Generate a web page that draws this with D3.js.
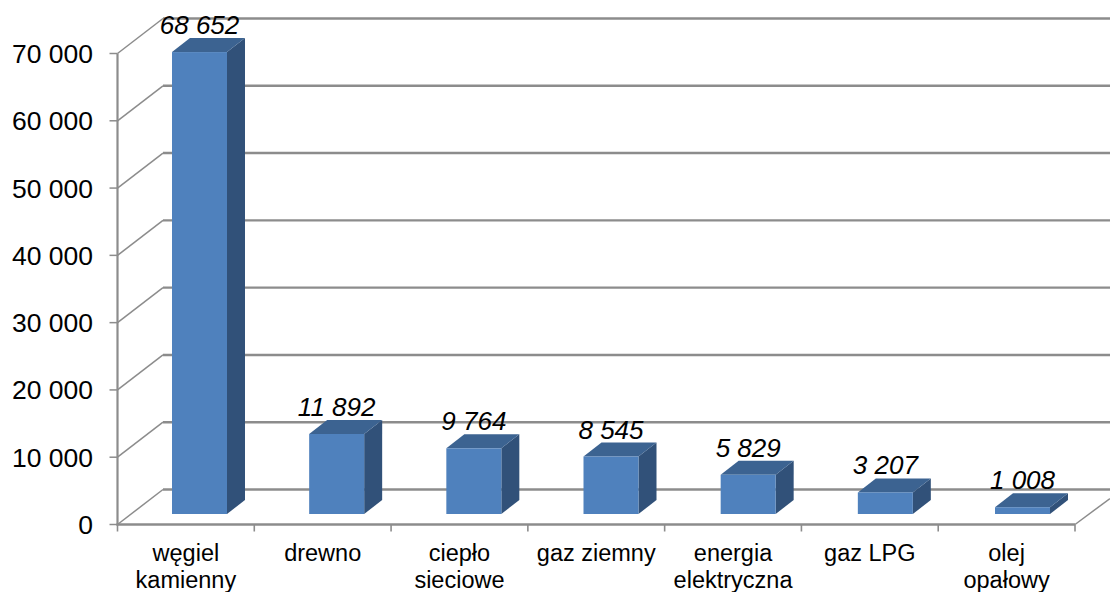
<!DOCTYPE html>
<html><head><meta charset="utf-8">
<script src="https://cdn.jsdelivr.net/npm/d3@7/dist/d3.min.js"></script>
<style>html,body{margin:0;padding:0;background:#fff}svg{display:block}text{font-family:"Liberation Sans",Arial,sans-serif;fill:#000}</style>
</head><body><svg id="c" width="1110" height="592"></svg>
<script>
const categories=[["węgiel","kamienny"],["drewno"],["ciepło","sieciowe"],["gaz ziemny"],["energia","elektryczna"],["gaz LPG"],["olej","opałowy"]];
const values=[68652,11892,9764,8545,5829,3207,1008];
const valueLabels=["68 652","11 892","9 764","8 545","5 829","3 207","1 008"];
const tickValues=[0,10000,20000,30000,40000,50000,60000,70000];
const tickLabels=["0","10 000","20 000","30 000","40 000","50 000","60 000","70 000"];

const svg=d3.select("#c");
const x0=117.5,x1=1075,wallDx=45.5,wallDy=-35;
const y=d3.scaleLinear().domain([0,70000]).range([524.5,53.5]);
const x=d3.scaleBand().domain(d3.range(values.length)).range([x0,x1]);
const grid="#8c8c8c";
const line=(a,b,c,d,w)=>svg.append("line").attr("x1",a).attr("y1",b).attr("x2",c).attr("y2",d).attr("stroke",grid).attr("stroke-width",w);

// walls and gridlines
tickValues.forEach((v,i)=>{
  const yy=y(v);
  line(x0,yy,x0+wallDx,yy+wallDy,1.5);
  line(x0+wallDx,yy+wallDy,1110,yy+wallDy,2.4);
  line(x0-8,yy,x0,yy,1.5);
  svg.append("text").attr("x",93).attr("y",yy+9.5).attr("text-anchor","end").attr("font-size",26.5).text(tickLabels[i]);
});
line(x1,y(0),1110,y(0)-26,1.5);
line(x0,y(70000),x0,y(0)+1,2.2);
line(x0-1,y(0),x1,y(0),2.4);
d3.range(values.length+1).forEach(i=>{
  const tx=i<values.length?x(i):x1;
  line(tx,y(0),tx,y(0)+7,1.6);
});

// bars
const barW=55,depX=18,depY=14,base=514;
const h=d3.scaleLinear().domain([0,70000]).range([0,y(0)-y(70000)]);
const left=d3.scaleLinear().domain([0,values.length-1]).range([172,995]);
const g=svg.selectAll("g.bar").data(values).join("g").attr("class","bar");
g.append("polygon").attr("fill","#315179").attr("points",(d,i)=>{
  const r=left(i)+barW,t=base-h(d);
  return [[r,base],[r+depX,base-depY],[r+depX,t-depY],[r,t]].join(" ");
});
g.append("polygon").attr("fill","#3c6391").attr("points",(d,i)=>{
  const l=left(i),t=base-h(d);
  return [[l,t],[l+depX,t-depY],[l+barW+depX,t-depY],[l+barW,t]].join(" ");
});
g.append("rect").attr("fill","#4f81bd").attr("x",(d,i)=>left(i)).attr("width",barW)
  .attr("y",d=>base-h(d)).attr("height",d=>h(d));
g.append("text").attr("text-anchor","middle").attr("font-style","italic").attr("font-size",26)
  .attr("x",(d,i)=>left(i)+barW/2).attr("y",d=>base-h(d)-18).text((d,i)=>valueLabels[i]);

// category labels
categories.forEach((c,i)=>{
  c.forEach((t,j)=>svg.append("text").attr("text-anchor","middle").attr("font-size",23.5)
    .attr("x",x(i)+x.bandwidth()/2).attr("y",561+j*26.5).text(t));
});
</script></body></html>
